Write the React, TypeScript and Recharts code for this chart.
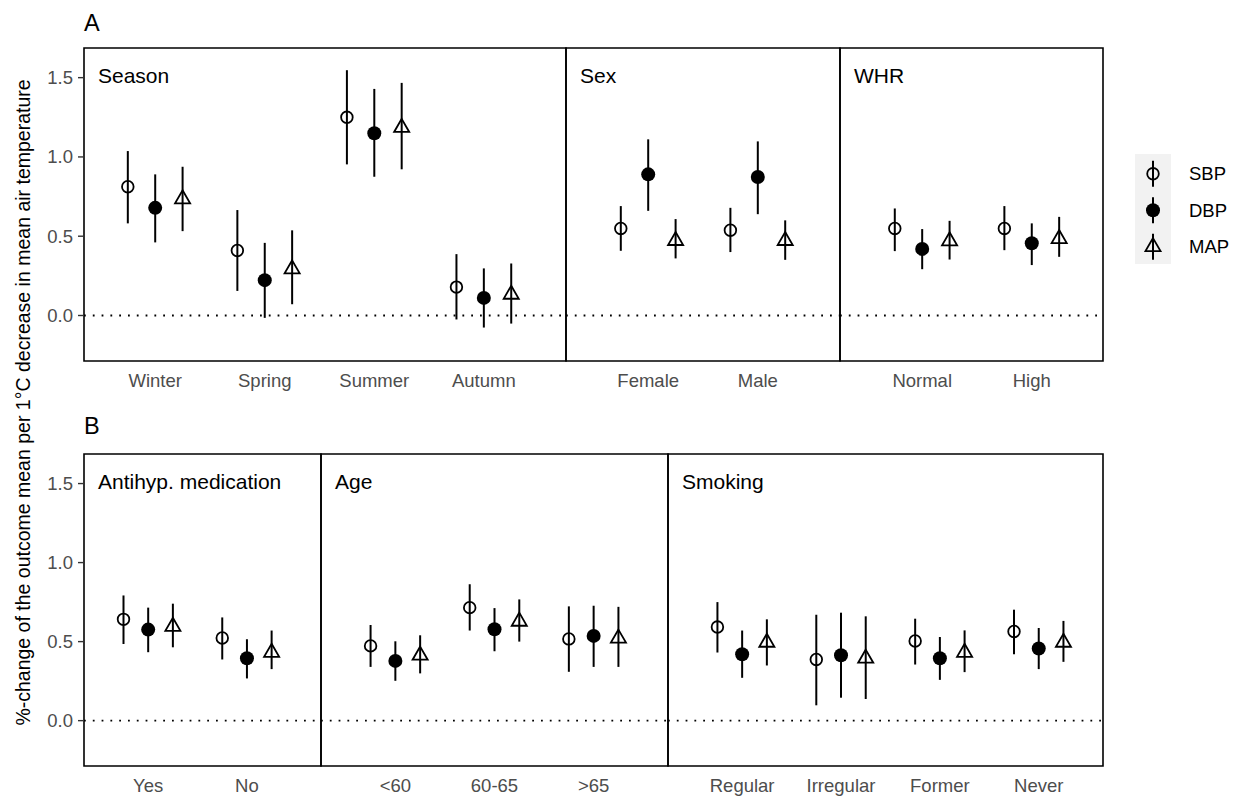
import React from 'react';
import { ScatterChart, Scatter, XAxis, YAxis, ErrorBar, ReferenceLine, ReferenceArea } from 'recharts';

const FONT = '"Liberation Sans", Arial, Helvetica, sans-serif';

const seriesNames = ['SBP', 'DBP', 'MAP'];

// each entry: [estimate, lower CI, upper CI]
// A: Season
const seasonCats = ['Winter', 'Spring', 'Summer', 'Autumn'];
const seasonSBP = [[0.812, 0.581, 1.037], [0.41, 0.155, 0.665], [1.25, 0.953, 1.547], [0.179, -0.025, 0.387]];
const seasonDBP = [[0.679, 0.461, 0.89], [0.223, -0.015, 0.458], [1.149, 0.875, 1.429], [0.111, -0.076, 0.297]];
const seasonMAP = [[0.735, 0.532, 0.938], [0.293, 0.071, 0.537], [1.185, 0.922, 1.467], [0.133, -0.051, 0.328]];

// A: Sex
const sexCats = ['Female', 'Male'];
const sexSBP = [[0.549, 0.408, 0.69], [0.538, 0.4, 0.679]];
const sexDBP = [[0.89, 0.66, 1.111], [0.873, 0.639, 1.098]];
const sexMAP = [[0.472, 0.36, 0.608], [0.472, 0.351, 0.6]];

// A: WHR
const whrCats = ['Normal', 'High'];
const whrSBP = [[0.549, 0.406, 0.675], [0.549, 0.412, 0.69]];
const whrDBP = [[0.42, 0.292, 0.545], [0.456, 0.318, 0.581]];
const whrMAP = [[0.47, 0.353, 0.597], [0.484, 0.37, 0.622]];

// B: Antihypertensive medication
const medCats = ['Yes', 'No'];
const medSBP = [[0.641, 0.485, 0.792], [0.523, 0.387, 0.653]];
const medDBP = [[0.576, 0.433, 0.715], [0.395, 0.267, 0.515]];
const medMAP = [[0.596, 0.464, 0.74], [0.431, 0.326, 0.57]];

// B: Age
const ageCats = ['<60', '60-65', '>65'];
const ageSBP = [[0.473, 0.34, 0.605], [0.715, 0.57, 0.863], [0.517, 0.309, 0.723]];
const ageDBP = [[0.378, 0.252, 0.502], [0.578, 0.439, 0.712], [0.536, 0.34, 0.727]];
const ageMAP = [[0.413, 0.299, 0.54], [0.628, 0.5, 0.767], [0.521, 0.34, 0.72]];

// B: Smoking
const smokeCats = ['Regular', 'Irregular', 'Former', 'Never'];
const smokeSBP = [[0.592, 0.431, 0.75], [0.387, 0.097, 0.67], [0.504, 0.355, 0.645], [0.564, 0.42, 0.702]];
const smokeDBP = [[0.42, 0.271, 0.57], [0.414, 0.145, 0.683], [0.395, 0.258, 0.529], [0.456, 0.326, 0.586]];
const smokeMAP = [[0.495, 0.349, 0.641], [0.394, 0.137, 0.66], [0.431, 0.307, 0.571], [0.495, 0.372, 0.631]];

const yTicks = [0, 0.5, 1, 1.5];
const Y_DOMAIN: [number, number] = [-0.287, 1.687];

const Y_AXIS_W = 60;
const X_AXIS_H = 45;
const M = 3;
const DODGE = 0.25;

const OpenCircle = (p: any) => (
  <circle cx={p.cx} cy={p.cy} r={5.8} fill="none" stroke="#000" strokeWidth={1.8} />
);
const FilledCircle = (p: any) => <circle cx={p.cx} cy={p.cy} r={7} fill="#000" />;
const OpenTriangle = (p: any) => {
  const s = 5.6;
  const { cx, cy } = p;
  const pts = `${cx},${cy - 1.555 * s} ${cx + 1.347 * s},${cy + 0.778 * s} ${cx - 1.347 * s},${cy + 0.778 * s}`;
  return <polygon points={pts} fill="none" stroke="#000" strokeWidth={1.8} />;
};
const shapes = [OpenCircle, FilledCircle, OpenTriangle];

function toPoints(vals: number[][], offset: number) {
  return vals.map(([est, lo, hi], i) => ({ x: i + offset, y: est, err: [est - lo, hi - est] }));
}

interface PanelProps {
  label: string;
  cats: string[];
  sbp: number[][];
  dbp: number[][];
  map: number[][];
  left: number;
  top: number;
  width: number;
  height: number;
  domain: [number, number];
  first?: boolean;
}

function Panel({ cats, sbp, dbp, map, left, top, width, height, domain, first }: PanelProps) {
  const yW = first ? Y_AXIS_W : 0;
  const series = [sbp, dbp, map];
  return (
    <div style={{ position: 'absolute', left: left - M - yW, top: top - M }}>
      <ScatterChart
        width={width + yW + 2 * M}
        height={height + M + X_AXIS_H}
        margin={{ top: M, right: M, bottom: 0, left: M }}
      >
        <XAxis
          type="number"
          dataKey="x"
          domain={domain}
          allowDataOverflow
          ticks={cats.map((_, i) => i)}
          interval={0}
          tickFormatter={(v: number) => cats[v]}
          axisLine={false}
          tickLine={false}
          tickSize={0}
          tickMargin={13}
          height={X_AXIS_H}
          tick={{ fill: '#4D4D4D', fontSize: 18.5, fontFamily: FONT }}
        />
        <YAxis
          type="number"
          dataKey="y"
          domain={Y_DOMAIN}
          allowDataOverflow
          ticks={yTicks}
          interval={0}
          hide={!first}
          width={Y_AXIS_W}
          tickFormatter={(v: number) => v.toFixed(1)}
          axisLine={false}
          tickLine={{ stroke: '#333333', strokeWidth: 1.4 }}
          tickSize={6}
          tickMargin={5}
          tick={{ fill: '#4D4D4D', fontSize: 18.5, fontFamily: FONT }}
        />
        <ReferenceLine y={0} stroke="#000" strokeWidth={1.8} strokeDasharray="1.8 7" />
        {series.map((vals, k) => (
          <Scatter
            key={seriesNames[k]}
            name={seriesNames[k]}
            data={toPoints(vals, (k - 1) * DODGE)}
            shape={shapes[k]}
            isAnimationActive={false}
          >
            <ErrorBar
              dataKey="err"
              direction="y"
              width={0}
              stroke="#000"
              strokeWidth={2}
              isAnimationActive={false}
            />
          </Scatter>
        ))}
        <ReferenceArea
          x1={domain[0]}
          x2={domain[1]}
          y1={Y_DOMAIN[0]}
          y2={Y_DOMAIN[1]}
          fill="none"
          fillOpacity={0}
          stroke="#000"
          strokeWidth={1.6}
          ifOverflow="visible"
        />
      </ScatterChart>
    </div>
  );
}

const TOP_Y = 48;
const TOP_H = 313;
const BOT_Y = 454;
const BOT_H = 312;

const panels: PanelProps[] = [
  { label: 'Season', cats: seasonCats, sbp: seasonSBP, dbp: seasonDBP, map: seasonMAP, left: 84, top: TOP_Y, width: 482, height: TOP_H, domain: [-0.65, 3.75], first: true },
  { label: 'Sex', cats: sexCats, sbp: sexSBP, dbp: sexDBP, map: sexMAP, left: 566, top: TOP_Y, width: 274, height: TOP_H, domain: [-0.75, 1.75] },
  { label: 'WHR', cats: whrCats, sbp: whrSBP, dbp: whrDBP, map: whrMAP, left: 840, top: TOP_Y, width: 263, height: TOP_H, domain: [-0.75, 1.65] },
  { label: 'Antihyp. medication', cats: medCats, sbp: medSBP, dbp: medDBP, map: medMAP, left: 84, top: BOT_Y, width: 237, height: BOT_H, domain: [-0.65, 1.75], first: true },
  { label: 'Age', cats: ageCats, sbp: ageSBP, dbp: ageDBP, map: ageMAP, left: 321, top: BOT_Y, width: 347, height: BOT_H, domain: [-0.75, 2.75] },
  { label: 'Smoking', cats: smokeCats, sbp: smokeSBP, dbp: smokeDBP, map: smokeMAP, left: 668, top: BOT_Y, width: 435, height: BOT_H, domain: [-0.75, 3.65] },
];

function Overlay() {
  const legendX = 1153;
  const legendRows = [173.8, 210.3, 246.8];
  return (
    <svg
      width={1241}
      height={798}
      style={{ position: 'absolute', left: 0, top: 0, pointerEvents: 'none' }}
      fontFamily={FONT}
    >
      <text x={84} y={30.5} fontSize={23.5} fill="#000">A</text>
      <text x={84} y={433.5} fontSize={23.5} fill="#000">B</text>
      <text transform="rotate(-90)" x={-402.5} y={29.5} fontSize={19.5} textAnchor="middle" fill="#000">
        %-change of the outcome mean per 1°C decrease in mean air temperature
      </text>
      {panels.map((p) => (
        <text key={p.label} x={p.left + 14} y={p.top + 35.2} fontSize={21} fill="#000">
          {p.label}
        </text>
      ))}
      <rect x={1135} y={154} width={36} height={110} fill="#F2F2F2" />
      {seriesNames.map((name, k) => {
        const Shape = shapes[k];
        const cy = legendRows[k];
        return (
          <g key={name}>
            <line x1={legendX} x2={legendX} y1={cy - 13} y2={cy + 13} stroke="#000" strokeWidth={2} />
            <Shape cx={legendX} cy={cy} />
            <text x={1189} y={cy + 6.6} fontSize={18.5} fill="#000">{name}</text>
          </g>
        );
      })}
    </svg>
  );
}

export default function App() {
  return (
    <div style={{ position: 'absolute', left: 0, top: 0, width: 1241, height: 798, background: '#fff' }}>
      {panels.map((p) => (
        <Panel key={p.label} {...p} />
      ))}
      <Overlay />
    </div>
  );
}
